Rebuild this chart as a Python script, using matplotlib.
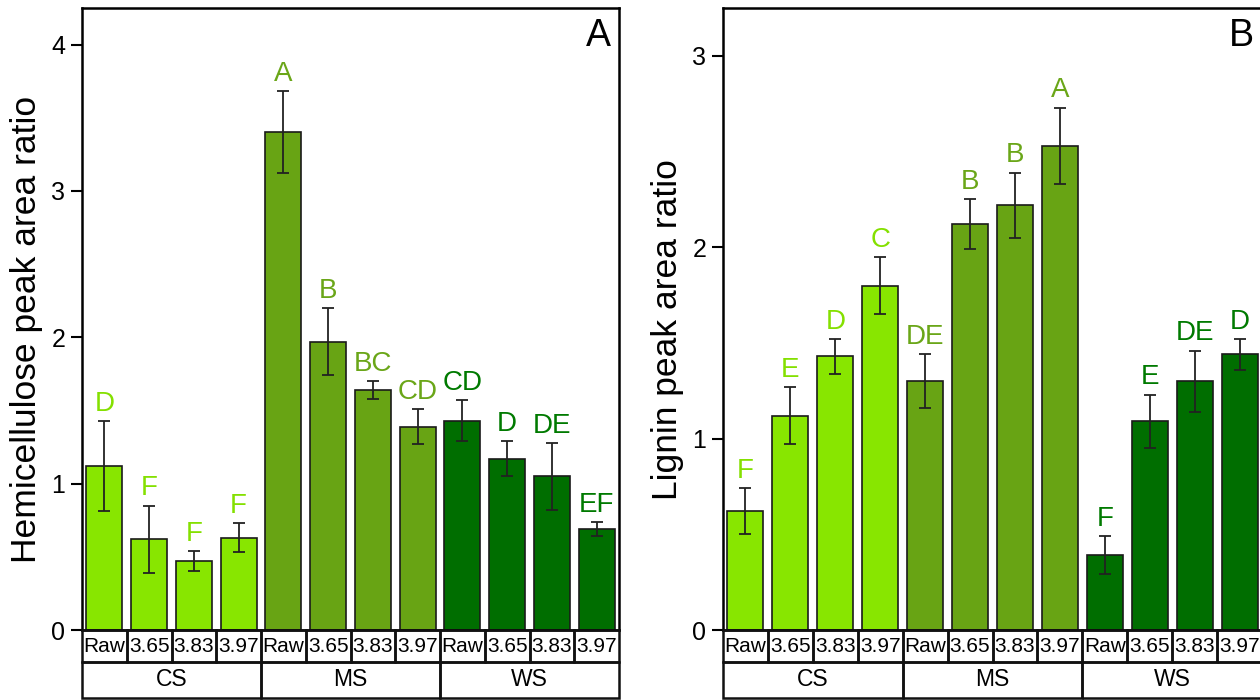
import matplotlib.pyplot as plt
from matplotlib.patches import Rectangle

plt.rcParams['font.family'] = ['Liberation Sans', 'DejaVu Sans']

groups = ["CS", "MS", "WS"]
treatments = ["Raw", "3.65", "3.83", "3.97"]
bar_colors = ["#88e600", "#68a414", "#006e00"]
letter_colors = ["#84e000", "#6aa618", "#007a00"]

hemi_mean = [1.12, 0.62, 0.47, 0.63, 3.40, 1.97, 1.64, 1.39, 1.43, 1.17, 1.05, 0.69]
hemi_err = [0.31, 0.23, 0.07, 0.10, 0.28, 0.23, 0.06, 0.12, 0.14, 0.12, 0.23, 0.05]
hemi_letters = ["D", "F", "F", "F", "A", "B", "BC", "CD", "CD", "D", "DE", "EF"]

lig_mean = [0.62, 1.12, 1.43, 1.80, 1.30, 2.12, 2.22, 2.53, 0.39, 1.09, 1.30, 1.44]
lig_err = [0.12, 0.15, 0.09, 0.15, 0.14, 0.13, 0.17, 0.20, 0.10, 0.14, 0.16, 0.08]
lig_letters = ["F", "E", "D", "C", "DE", "B", "B", "A", "F", "E", "DE", "D"]

W, H = 1260, 700
fig = plt.figure(figsize=(W / 100, H / 100), dpi=100)


def px(x0, x1, y_top, y_bot):
    return [x0 / W, 1 - y_bot / H, (x1 - x0) / W, (y_bot - y_top) / H]


def panel(x0, x1, mean, err, letters, ymax, yticks, ylabel, tag):
    ax = fig.add_axes(px(x0, x1, 8, 630))
    n = len(mean)
    xs = list(range(n))
    cols = [bar_colors[i // 4] for i in xs]
    ax.bar(xs, mean, width=0.8, color=cols, edgecolor="#1a1a1a", linewidth=1.2, zorder=2)
    ax.errorbar(xs, mean, yerr=err, fmt="none", ecolor="#222222", elinewidth=1.3,
                capsize=4, capthick=1.3, zorder=3)
    for i in xs:
        ax.annotate(letters[i], (i, mean[i] + err[i]), xytext=(0, 3),
                    textcoords="offset points", ha="center", va="bottom",
                    fontsize=20, color=letter_colors[i // 4])
    ax.set_xlim(-0.5, n - 0.5)
    ax.set_ylim(0, ymax)
    ax.set_yticks(yticks)
    ax.set_xticks([])
    ax.tick_params(axis="y", direction="out", length=8, width=1.5, labelsize=18, pad=4)
    for s in ax.spines.values():
        s.set_linewidth(1.8)
    ax.set_ylabel(ylabel, fontsize=25.5)
    ax.yaxis.set_label_coords(-39 / (x1 - x0), 0.483)
    ax.text(0.985, 0.955, tag, transform=ax.transAxes, ha="right", va="center", fontsize=27)

    # category table below the axis
    tb = fig.add_axes(px(x0, x1, 630, 698))
    tb.set_xlim(-0.5, n - 0.5)
    tb.set_ylim(0, 68)
    tb.axis("off")
    for i in xs:
        tb.add_patch(Rectangle((i - 0.5, 36), 1, 32, fill=False, lw=1.8,
                               edgecolor="#111111", clip_on=False))
        tb.text(i, 52, treatments[i % 4], ha="center", va="center", fontsize=15)
    for g, name in enumerate(groups):
        tb.add_patch(Rectangle((g * 4 - 0.5, 0), 4, 36, fill=False, lw=1.8,
                               edgecolor="#111111", clip_on=False))
        tb.text(g * 4 + 1.5, 18, name, ha="center", va="center", fontsize=16.5)
    return ax


panel(82, 619, hemi_mean, hemi_err, hemi_letters, 4.25, [0, 1, 2, 3, 4],
      "Hemicellulose peak area ratio", "A")
panel(723, 1262, lig_mean, lig_err, lig_letters, 3.25, [0, 1, 2, 3],
      "Lignin peak area ratio", "B")

fig.savefig("out.png", dpi=100)
